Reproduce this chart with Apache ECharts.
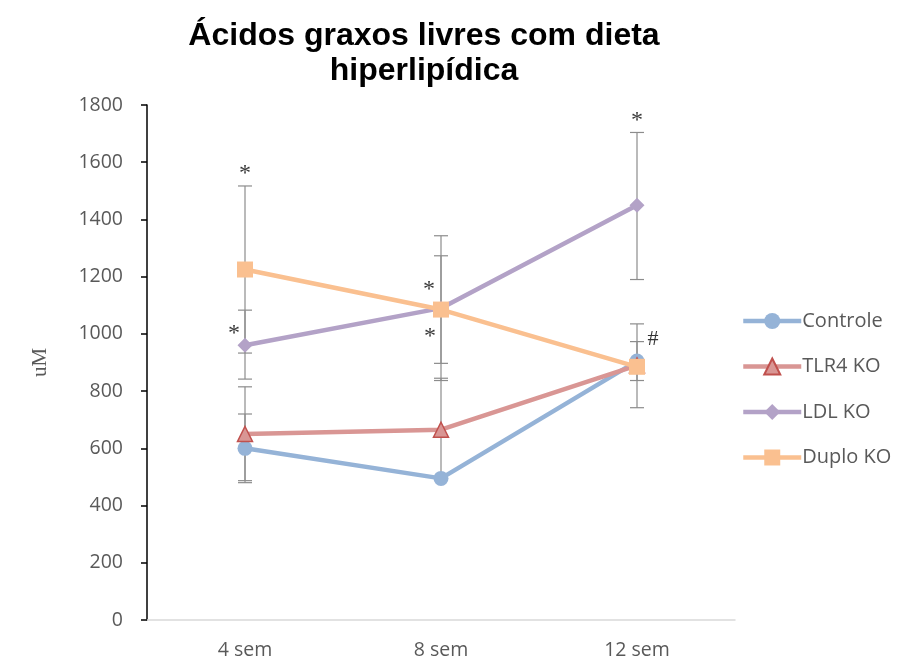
<!DOCTYPE html>
<html>
<head>
<meta charset="utf-8">
<script src="https://cdn.jsdelivr.net/npm/echarts@6/dist/echarts.min.js"></script>
<style>html,body{margin:0;padding:0;background:#fff;}#c{width:897px;height:662px;}</style>
</head>
<body>
<div id="c"></div>
<script>
const categories = ['4 sem', '8 sem', '12 sem'];
const seriesNames = ['Controle', 'TLR4 KO', 'LDL KO', 'Duplo KO'];
const controle = [600, 495, 905];
const controleHi = [720, 845, 973];
const controleLo = [480, 495, 837];
const tlr4 = [650, 665, 890];
const tlr4Hi = [815, 665, 890];
const tlr4Lo = [487, 665, 890];
const ldl = [960, 1090, 1450];
const ldlHi = [1083, 1343, 1704];
const ldlLo = [842, 837, 1190];
const duplo = [1225, 1085, 885];
const duploHi = [1517, 1273, 1035];
const duploLo = [933, 897, 742];
const yTicks = [0, 200, 400, 600, 800, 1000, 1200, 1400, 1600, 1800];
// annotations: [category, value, text]
const annotations = [
  ['4 sem', 1517, '*'],
  ['4 sem', 960, '*'],
  ['8 sem', 1090, '*'],
  ['8 sem', 1085, '*'],
  ['12 sem', 1704, '*'],
  ['12 sem', 1035, '#']
];
const annotationOffsets = [[0, -12], [-11, -12], [-11, 29], [-12, -20], [0, -12], [16, 15]];

const values = [controle, tlr4, ldl, duplo];
const his = [controleHi, tlr4Hi, ldlHi, duploHi];
const los = [controleLo, tlr4Lo, ldlLo, duploLo];
const lineColors = ['#95B3D7', '#D99694', '#B3A2C7', '#FAC090'];
const markerBorders = ['#95B3D7', '#C0504D', '#B3A2C7', '#FAC090'];
const symbols = ['circle', 'triangle', 'diamond', 'rect'];
const symbolSizes = [15, 15, 15, 16];

const errData = [];
for (let s = 0; s < 4; s++) {
  for (let i = 0; i < categories.length; i++) {
    if (his[s][i] !== los[s][i]) errData.push([i, los[s][i], his[s][i]]);
  }
}

const series = [{
  type: 'custom',
  name: 'err',
  z: 1,
  silent: true,
  renderItem: function (params, api) {
    const x = api.value(0);
    const lo = api.coord([x, api.value(1)]);
    const hi = api.coord([x, api.value(2)]);
    const hw = 7;
    const st = { stroke: '#8c8c8c', lineWidth: 1.2 };
    return {
      type: 'group',
      children: [
        { type: 'line', shape: { x1: lo[0], y1: lo[1], x2: hi[0], y2: hi[1] }, style: st },
        { type: 'line', shape: { x1: lo[0] - hw, y1: lo[1], x2: lo[0] + hw, y2: lo[1] }, style: st },
        { type: 'line', shape: { x1: hi[0] - hw, y1: hi[1], x2: hi[0] + hw, y2: hi[1] }, style: st }
      ]
    };
  },
  encode: { x: 0, y: [1, 2] },
  data: errData
}];

for (let s = 0; s < 4; s++) {
  series.push({
    type: 'line',
    name: seriesNames[s],
    z: 3,
    data: values[s],
    symbol: symbols[s],
    symbolSize: symbolSizes[s],
    showAllSymbol: true,
    lineStyle: { color: lineColors[s], width: 4.5 },
    itemStyle: { color: lineColors[s], borderColor: markerBorders[s], borderWidth: s === 1 ? 1.5 : 0, opacity: 1 },
    emphasis: { disabled: true },
    animation: false
  });
}

series.push({
  type: 'scatter',
  name: 'ann',
  z: 5,
  symbolSize: 0,
  silent: true,
  data: annotations.map((a, k) => ({
    value: [a[0], a[1]],
    label: {
      show: true,
      formatter: a[2],
      position: 'inside',
      offset: annotationOffsets[k],
      color: '#000',
      fontFamily: 'Liberation Serif',
      fontSize: a[2] === '#' ? 22 : 24
    }
  }))
});

const chart = echarts.init(document.getElementById('c'), null, { renderer: 'canvas' });
chart.setOption({
  animation: false,
  backgroundColor: '#fff',
  title: {
    text: 'Ácidos graxos livres com dieta\nhiperlipídica',
    left: 419,
    textAlign: 'center',
    top: 14,
    textStyle: { fontFamily: 'Liberation Sans', fontWeight: 'bold', fontSize: 32, color: '#000', lineHeight: 35 }
  },
  grid: { left: 147, right: 162, top: 105, bottom: 42, containLabel: false },
  legend: {
    data: seriesNames,
    orient: 'vertical',
    left: 736,
    top: 306,
    itemWidth: 58,
    itemHeight: 20,
    itemGap: 25.5,
    lineStyle: { width: 4.5 },
    textStyle: { fontFamily: 'Open Sans', fontSize: 20, lineHeight: 20, color: '#595959', padding: [0, 0, 0, -4] },
    selectedMode: false
  },
  xAxis: {
    type: 'category',
    data: categories,
    boundaryGap: true,
    axisLine: { lineStyle: { color: '#D9D9D9', width: 1.5 } },
    axisTick: { show: false },
    axisLabel: { color: '#595959', fontFamily: 'Open Sans', fontSize: 19.5, margin: 20 },
    splitLine: { show: false }
  },
  yAxis: {
    type: 'value',
    min: yTicks[0],
    max: yTicks[yTicks.length - 1],
    interval: yTicks[1] - yTicks[0],
    name: 'uM',
    nameLocation: 'middle',
    nameGap: 96,
    nameTextStyle: { fontFamily: 'Liberation Serif', fontSize: 21, color: '#595959' },
    axisLine: { show: true, lineStyle: { color: '#000', width: 1.5 } },
    axisTick: { show: true, inside: false, length: 6, lineStyle: { color: '#000', width: 1.5 } },
    axisLabel: { color: '#595959', fontFamily: 'Open Sans', fontSize: 19.5, margin: 24, formatter: function (v) { return String(v); } },
    splitLine: { show: false }
  },
  series: series
});
</script>
</body>
</html>
